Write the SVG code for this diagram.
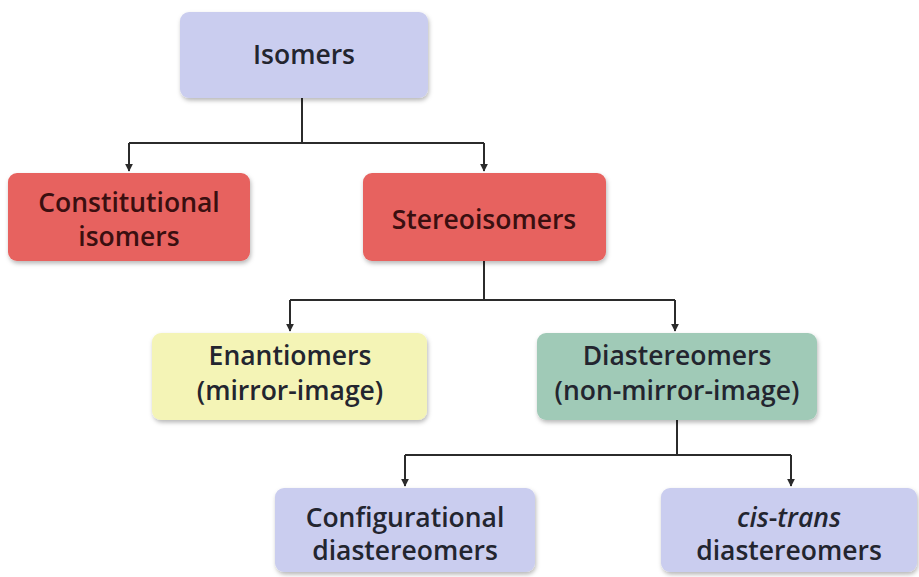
<svg xmlns="http://www.w3.org/2000/svg" width="919" height="577" viewBox="0 0 919 577">
  <defs>
    <filter id="shadow" x="-10%" y="-10%" width="125%" height="135%">
      <feDropShadow dx="1" dy="2.5" stdDeviation="2" flood-color="#000" flood-opacity="0.28"/>
    </filter>
    <marker id="arrow" viewBox="0 0 10 10" refX="9" refY="5" markerWidth="4" markerHeight="4" orient="auto" markerUnits="strokeWidth">
      <path d="M0,0 L10,5 L0,10 z" fill="#2b2b2b"/>
    </marker>
  </defs>
  <style>
    .box { filter: url(#shadow); }
    .lav { fill: #cacdef; }
    .red { fill: #e7625f; }
    .yel { fill: #f4f4b6; }
    .grn { fill: #a0cab7; }
    .lbl { font-family: "Open Sans", "Liberation Sans", sans-serif; font-weight: 600; font-size: 26.5px; text-anchor: middle; fill: #23252f; }
    .red-lbl { fill: #3a0f10; }
    .conn { fill: none; stroke: #2b2b2b; stroke-width: 2; }
  </style>

  <rect width="919" height="577" fill="#ffffff"/>

  <!-- connectors -->
  <g id="connectors">
    <path class="conn" d="M302,98 V143"/>
    <path class="conn" d="M129,143 H484"/>
    <path class="conn" d="M129,143 V171" marker-end="url(#arrow)"/>
    <path class="conn" d="M484,143 V171" marker-end="url(#arrow)"/>

    <path class="conn" d="M484,261 V300"/>
    <path class="conn" d="M290,300 H675"/>
    <path class="conn" d="M290,300 V331" marker-end="url(#arrow)"/>
    <path class="conn" d="M675,300 V331" marker-end="url(#arrow)"/>

    <path class="conn" d="M677,420 V455"/>
    <path class="conn" d="M405,455 H791"/>
    <path class="conn" d="M405,455 V486" marker-end="url(#arrow)"/>
    <path class="conn" d="M791,455 V486" marker-end="url(#arrow)"/>
  </g>

  <!-- nodes -->
  <g id="isomers">
    <rect class="box lav" x="180" y="12" width="248" height="86" rx="9"/>
    <text class="lbl" x="304" y="64">Isomers</text>
  </g>

  <g id="constitutional">
    <rect class="box red" x="8" y="173" width="242" height="88" rx="9"/>
    <text class="lbl red-lbl" x="129" y="212">Constitutional</text>
    <text class="lbl red-lbl" x="129" y="246">isomers</text>
  </g>

  <g id="stereoisomers">
    <rect class="box red" x="363" y="173" width="243" height="88" rx="9"/>
    <text class="lbl red-lbl" x="484" y="229">Stereoisomers</text>
  </g>

  <g id="enantiomers">
    <rect class="box yel" x="152" y="333" width="275" height="87" rx="9"/>
    <text class="lbl" x="290" y="365">Enantiomers</text>
    <text class="lbl" x="290" y="400">(mirror-image)</text>
  </g>

  <g id="diastereomers">
    <rect class="box grn" x="537" y="333" width="280" height="87" rx="9"/>
    <text class="lbl" x="677" y="365">Diastereomers</text>
    <text class="lbl" x="677" y="400">(non-mirror-image)</text>
  </g>

  <g id="configurational">
    <rect class="box lav" x="275" y="488" width="260" height="84" rx="9"/>
    <text class="lbl" x="405" y="527">Configurational</text>
    <text class="lbl" x="405" y="560">diastereomers</text>
  </g>

  <g id="cis-trans">
    <rect class="box lav" x="661" y="488" width="256" height="84" rx="9"/>
    <text class="lbl" x="789" y="527"><tspan font-style="italic">cis</tspan>-<tspan font-style="italic">trans</tspan></text>
    <text class="lbl" x="789" y="560">diastereomers</text>
  </g>
</svg>
